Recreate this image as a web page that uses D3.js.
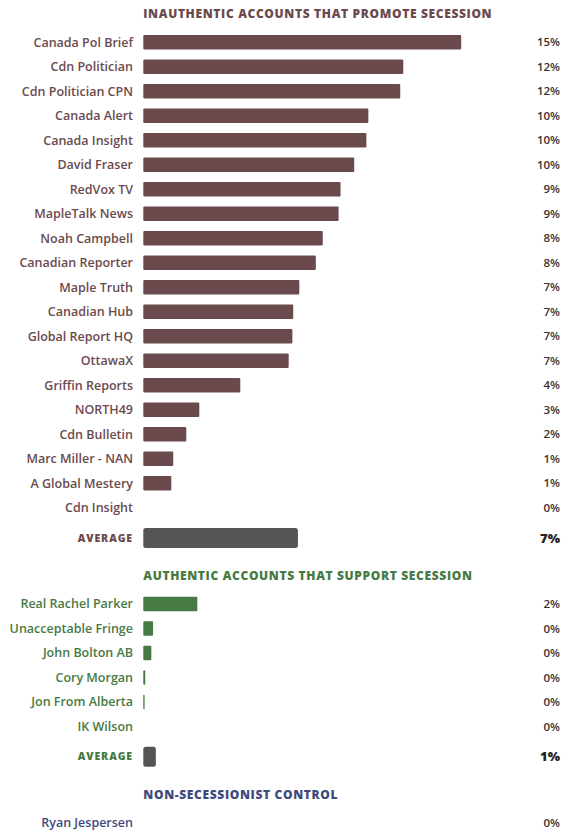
<!DOCTYPE html>
<html>
<meta charset="UTF-8">
<head>
    <script src="https://d3js.org/d3.v7.min.js"></script>
    <style>
        body {
            margin: 0;
            background: white;
            font-family: "Open Sans", sans-serif;
        }
    </style>
</head>
<body>
</body>
<script>
    // inauthentic accounts (percent)
    let inauthNames = ["Canada Pol Brief", "Cdn Politician", "Cdn Politician CPN", "Canada Alert",
        "Canada Insight", "David Fraser", "RedVox TV", "MapleTalk News", "Noah Campbell",
        "Canadian Reporter", "Maple Truth", "Canadian Hub", "Global Report HQ", "OttawaX",
        "Griffin Reports", "NORTH49", "Cdn Bulletin", "Marc Miller - NAN", "A Global Mestery", "Cdn Insight"];
    let inauthValues = [14.65, 11.98, 11.84, 10.37, 10.28, 9.72, 9.09, 9.0, 8.27,
        7.95, 7.19, 6.91, 6.87, 6.7, 4.47, 2.58, 1.98, 1.38, 1.29, 0];

    // authentic accounts (percent)
    let authNames = ["Real Rachel Parker", "Unacceptable Fringe", "John Bolton AB", "Cory Morgan", "Jon From Alberta", "IK Wilson"];
    let authValues = [2.49, 0.45, 0.37, 0.09, 0.06, 0];

    // control
    let controlNames = ["Ryan Jespersen"];
    let controlValues = [0];

    let titles = ["INAUTHENTIC ACCOUNTS THAT PROMOTE SECESSION",
        "AUTHENTIC ACCOUNTS THAT SUPPORT SECESSION",
        "NON-SECESSIONIST CONTROL"];

    let width = 565, height = 833;
    let step = 24.5;

    let svg = d3.select("body").append("svg")
        .attr("width", width)
        .attr("height", height);

    let x = d3.scaleLinear().domain([0, 20]).range([143.3, 577.3]);

    function fmt(v) { return Math.round(v) + "%"; }

    function drawSection(names, values, opts) {
        let y = d3.scaleBand()
            .domain(names)
            .range([opts.top, opts.top + names.length * step])
            .paddingInner(0.41)
            .paddingOuter(0.205);

        svg.append("text")
            .attr("x", x(0))
            .attr("y", opts.titleY)
            .attr("dy", "0.35em")
            .attr("fill", opts.color)
            .attr("font-size", "12px")
            .attr("font-weight", 800)
            .attr("letter-spacing", "0.65px")
            .text(opts.title);

        let rows = svg.append("g")
            .selectAll("g")
            .data(names.map((n, i) => ({name: n, value: values[i]})))
            .join("g");

        rows.append("rect")
            .attr("x", x(0))
            .attr("y", d => y(d.name))
            .attr("width", d => x(d.value) - x(0))
            .attr("height", y.bandwidth())
            .attr("rx", 1)
            .attr("fill", opts.color);

        rows.append("text")
            .attr("x", 133)
            .attr("y", d => y(d.name) + y.bandwidth() / 2)
            .attr("dy", "0.35em")
            .attr("text-anchor", "end")
            .attr("fill", opts.color)
            .attr("font-size", "12.5px")
            .attr("font-weight", 600)
            .text(d => d.name);

        rows.append("text")
            .attr("x", 560)
            .attr("y", d => y(d.name) + y.bandwidth() / 2)
            .attr("dy", "0.35em")
            .attr("text-anchor", "end")
            .attr("fill", "#333")
            .attr("font-size", "11.5px")
            .attr("font-weight", 600)
            .text(d => fmt(d.value));

        if (opts.avgY) {
            let avg = d3.mean(values);
            svg.append("rect")
                .attr("x", x(0))
                .attr("y", opts.avgY - 10)
                .attr("width", x(avg) - x(0))
                .attr("height", 20)
                .attr("rx", 2.5)
                .attr("fill", "#555555");

            svg.append("text")
                .attr("x", 133)
                .attr("y", opts.avgY)
                .attr("dy", "0.35em")
                .attr("text-anchor", "end")
                .attr("fill", opts.color)
                .attr("font-size", "10.5px")
                .attr("font-weight", 800)
                .attr("letter-spacing", "0.9px")
                .text("AVERAGE");

            svg.append("text")
                .attr("x", 560)
                .attr("y", opts.avgY)
                .attr("dy", "0.35em")
                .attr("text-anchor", "end")
                .attr("fill", "#222")
                .attr("font-size", "13px")
                .attr("font-weight", 800)
                .text(fmt(avg));
        }
    }

    drawSection(inauthNames, inauthValues, {
        title: titles[0], color: "#6b4a4e", titleY: 14, top: 30.05, avgY: 538
    });
    drawSection(authNames, authValues, {
        title: titles[1], color: "#477a43", titleY: 576, top: 591.75, avgY: 756.7
    });
    drawSection(controlNames, controlValues, {
        title: titles[2], color: "#3f4a7c", titleY: 795, top: 810.75
    });
</script>
</html>
